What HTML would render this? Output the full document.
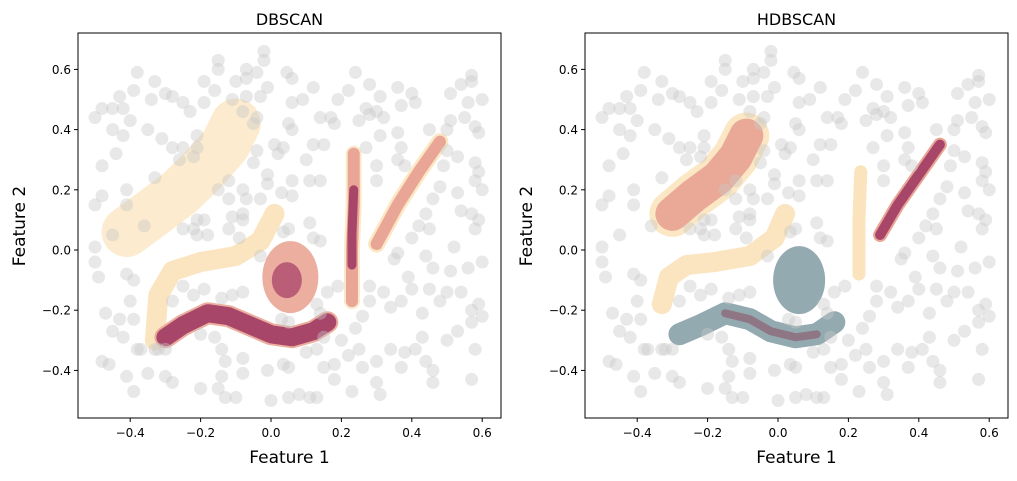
<!DOCTYPE html>
<html><head><meta charset="utf-8"><style>
body{margin:0;background:#fff;}
svg text{font-family:"DejaVu Sans","Liberation Sans",sans-serif;fill:#000;}
</style></head><body>
<svg id="chart" width="1017" height="476" viewBox="0 0 1017 476" xmlns="http://www.w3.org/2000/svg">
<defs>
<clipPath id="clipL"><rect x="78" y="33" width="423" height="385"/></clipPath>
<clipPath id="clipR"><rect x="585" y="33" width="423" height="385"/></clipPath>
</defs>
<g id="panelL"></g>
<g id="panelR"></g>
</svg>
<script>
// noise points (data coords)
const noiseX=[-0.50,-0.48,-0.45,-0.43,-0.39,-0.38,-0.42,-0.40,-0.45,-0.42,-0.44,-0.48,-0.50,-0.48,-0.41,-0.41,-0.36,-0.45,-0.50,-0.50,-0.49,-0.41,-0.39,-0.40,-0.47,-0.43,-0.39,-0.45,-0.42,-0.38,-0.33,-0.48,-0.46,-0.41,-0.39,-0.35,-0.30,-0.28,-0.20,-0.15,-0.13,-0.10,-0.14,-0.13,-0.14,-0.08,-0.08,-0.01,0.035,0.05,0.0,0.05,0.08,0.11,0.13,0.15,0.18,0.18,0.22,0.23,0.25,0.26,0.30,0.30,0.31,0.34,0.37,0.38,0.43,0.41,0.44,0.46,0.46,0.50,0.53,0.57,0.58,0.57,0.60,0.59,0.57,0.54,0.50,0.48,0.43,0.45,0.40,0.39,0.37,0.34,0.32,0.28,0.28,0.26,0.24,0.20,0.35,0.36,0.44,0.46,0.51,0.56,0.60,0.52,0.45,0.40,0.42,0.44,0.46,0.48,0.53,0.54,0.57,0.59,0.58,0.60,0.58,0.59,0.58,0.49,0.50,0.53,0.45,0.50,0.51,0.55,0.58,0.59,0.56,0.51,0.54,0.57,0.57,0.60,0.40,0.41,0.36,0.37,0.31,0.30,0.27,0.28,0.24,0.22,0.19,0.25,0.28,0.32,0.31,0.36,0.37,0.36,0.38,0.30,0.30,0.27,0.18,0.14,0.17,0.12,0.09,0.06,0.06,0.045,0.05,0.06,0.12,0.15,0.10,0.11,0.14,0.06,0.06,0.03,0.01,0.035,0.02,-0.02,-0.02,-0.04,-0.07,-0.07,-0.10,-0.15,-0.15,-0.19,-0.16,-0.11,-0.07,-0.03,-0.01,-0.08,-0.04,-0.05,-0.19,-0.25,-0.23,-0.30,-0.28,-0.33,-0.34,-0.35,-0.31,-0.28,-0.25,-0.21,-0.21,-0.22,-0.26,-0.33,-0.04,-0.05,-0.01,-0.01,-0.03,-0.07,-0.08,-0.12,-0.15,-0.12,-0.08,-0.08,-0.11,-0.12,-0.19,-0.21,-0.22,-0.25,-0.18,-0.21,-0.09,-0.03,0.035,0.05,0.11,0.12,0.14,0.19,0.16,0.13,0.14,0.05,0.03,-0.08,-0.11,-0.14,-0.19,-0.22,-0.25,-0.28,-0.16,-0.20,0.10,0.13,0.15,-0.37,-0.32,-0.30];
const noiseY=[0.44,0.47,0.47,0.51,0.53,0.59,0.47,0.43,0.40,0.38,0.32,0.28,0.15,0.18,0.20,0.15,0.08,0.05,0.01,-0.04,-0.09,-0.08,-0.10,-0.17,-0.21,-0.23,-0.23,-0.27,-0.29,-0.33,-0.33,-0.37,-0.38,-0.42,-0.47,-0.41,-0.42,-0.44,-0.46,-0.46,-0.49,-0.49,-0.42,-0.37,-0.33,-0.41,-0.36,-0.40,-0.38,-0.39,-0.50,-0.49,-0.48,-0.49,-0.49,-0.39,-0.43,-0.38,-0.35,-0.47,-0.33,-0.39,-0.37,-0.44,-0.48,-0.33,-0.39,-0.34,-0.29,-0.33,-0.37,-0.44,-0.40,-0.30,-0.27,-0.43,-0.33,-0.24,-0.22,-0.18,-0.20,-0.14,-0.14,-0.17,-0.21,-0.13,-0.13,-0.09,-0.17,-0.19,-0.14,-0.12,-0.17,-0.22,-0.26,-0.30,-0.03,-0.01,-0.02,-0.06,-0.07,-0.06,-0.04,0.01,0.07,0.04,0.08,0.12,0.17,0.21,0.19,0.13,0.12,0.10,0.07,0.20,0.23,0.26,0.29,0.28,0.33,0.31,0.40,0.40,0.43,0.44,0.41,0.39,0.49,0.52,0.55,0.56,0.58,0.50,0.52,0.49,0.54,0.48,0.51,0.46,0.47,0.55,0.59,0.53,0.50,0.43,0.45,0.44,0.38,0.39,0.34,0.30,0.28,0.28,0.23,0.34,0.42,0.44,0.44,0.54,0.50,0.49,0.57,0.59,0.42,0.40,0.35,0.35,0.30,0.23,0.23,0.23,0.18,0.19,0.35,0.34,0.32,0.66,0.63,0.59,0.60,0.57,0.56,0.63,0.60,0.56,0.53,0.50,0.51,0.51,0.54,0.46,0.44,0.42,0.49,0.49,0.46,0.52,0.51,0.56,0.50,0.40,0.37,0.34,0.34,0.38,0.34,0.31,0.30,0.24,0.33,0.29,0.25,0.22,0.17,0.17,0.20,0.23,0.20,0.17,0.12,0.10,0.11,0.07,0.10,0.10,0.07,0.07,0.05,0.05,0.04,-0.02,0.06,0.07,0.09,0.04,0.03,-0.12,-0.14,-0.18,-0.21,-0.24,-0.23,-0.14,-0.15,-0.16,-0.13,-0.15,-0.12,-0.17,-0.29,-0.28,-0.34,-0.33,-0.29,-0.33,-0.33,-0.33];

// DBSCAN clusters (centerlines in data coords)
const dbCreamUpperX=[-0.41,-0.34,-0.26,-0.19,-0.13,-0.10];
const dbCreamUpperY=[0.06,0.12,0.19,0.27,0.35,0.42];
const dbCreamLowerX=[-0.33,-0.32,-0.28,-0.20,-0.10,-0.03,0.01];
const dbCreamLowerY=[-0.30,-0.15,-0.07,-0.04,-0.02,0.03,0.12];
const dbWaveX=[-0.30,-0.25,-0.18,-0.12,-0.06,0.0,0.06,0.12,0.16];
const dbWaveY=[-0.29,-0.25,-0.21,-0.22,-0.25,-0.28,-0.29,-0.27,-0.24];
const dbBarX=[0.23,0.23,0.235,0.235];
const dbBarY=[-0.17,0.0,0.15,0.32];
const dbDiagX=[0.30,0.36,0.42,0.48];
const dbDiagY=[0.02,0.15,0.26,0.36];
const dbBlobX=[0.055];
const dbBlobY=[-0.09];

// HDBSCAN clusters
const hdSalmonX=[-0.30,-0.24,-0.17,-0.12,-0.09];
const hdSalmonY=[0.12,0.18,0.24,0.31,0.38];
const hdCreamX=[-0.33,-0.31,-0.26,-0.18,-0.08,-0.01,0.02];
const hdCreamY=[-0.18,-0.09,-0.05,-0.04,-0.02,0.04,0.12];
const hdBarX=[0.23,0.23,0.235];
const hdBarY=[-0.08,0.10,0.26];
const hdDiagX=[0.29,0.34,0.40,0.46];
const hdDiagY=[0.05,0.15,0.25,0.35];
const hdWaveX=[-0.28,-0.22,-0.15,-0.08,-0.02,0.05,0.11,0.16];
const hdWaveY=[-0.28,-0.25,-0.21,-0.23,-0.27,-0.29,-0.28,-0.24];
const hdBlobX=[0.06];
const hdBlobY=[-0.10];

const xTicks=[-0.4,-0.2,0.0,0.2,0.4,0.6];
const yTicks=[-0.4,-0.2,0.0,0.2,0.4,0.6];
const tickLabels=['\u22120.4','\u22120.2','0.0','0.2','0.4','0.6'];

const NS='http://www.w3.org/2000/svg';
function mk(tag,attrs,parent){const e=document.createElementNS(NS,tag);for(const k in attrs)e.setAttribute(k,attrs[k]);parent.appendChild(e);return e;}

function drawPanel(g,x0,left,title,clipId,layers){
  const X=v=>x0+v*352, Y=v=>250-v*301;
  const plot=mk('g',{'clip-path':'url(#'+clipId+')'},g);
  
  
  function line(xs,ys,col,w,op){
    let d='';xs.forEach((x,i)=>{d+=(i?'L':'M')+X(x)+' '+Y(ys[i]);});
    const p=mk('path',{d:d,fill:'none',stroke:col,'stroke-width':w,'stroke-linecap':'round','stroke-linejoin':'round',opacity:op},plot);
    
    
  }
  function blob(xs,ys,col,rx,ry,op){
    xs.forEach((x,i)=>{const c=mk('ellipse',{cx:X(x),cy:Y(ys[i]),rx:rx,ry:ry,fill:col,opacity:op},plot);
      
      });
  }
  layers(line,blob);
  noiseX.forEach((x,i)=>{
    const c=mk('circle',{cx:X(x),cy:Y(noiseY[i]),r:6.5,fill:'#c9c9c9',opacity:0.42},plot);
    
    
  });
  const fr=mk('rect',{x:left,y:33,width:423,height:385,fill:'none',stroke:'#000','stroke-width':1},g);
  
  
  xTicks.forEach((t,i)=>{
    const xx=X(t);
    mk('line',{x1:xx,x2:xx,y1:418,y2:422,stroke:'#000'},g);
    const tx=mk('text',{x:xx,y:437,'text-anchor':'middle','font-size':12},g);
    tx.textContent=tickLabels[i];
    
    
  });
  yTicks.forEach((t,i)=>{
    const yy=Y(t);
    mk('line',{x1:left-4,x2:left,y1:yy,y2:yy,stroke:'#000'},g);
    const tx=mk('text',{x:left-7,y:yy+4.5,'text-anchor':'end','font-size':12},g);
    tx.textContent=tickLabels[i];
    
    
  });
  const tt=mk('text',{x:left+211.5,y:25,'text-anchor':'middle','font-size':16},g);
  tt.textContent=title;
  
  
  const xl=mk('text',{x:left+211.5,y:463,'text-anchor':'middle','font-size':17},g);
  xl.textContent='Feature 1';
  
  
  const yl=mk('text',{x:0,y:0,'text-anchor':'middle','font-size':17,transform:'translate('+(left-53)+',226) rotate(-90)'},g);
  yl.textContent='Feature 2';
  
  
}

drawPanel(document.getElementById('panelL'),271,78,'DBSCAN','clipL',(line,blob)=>{
  line(dbCreamUpperX,dbCreamUpperY,'#fbe4bd',50,0.75);
  line(dbCreamLowerX,dbCreamLowerY,'#fbe4bd',20,0.95);
  blob(dbBlobX,dbBlobY,'#e9a595',28,36,0.9);
  line(dbBarX,dbBarY,'#fbe4bd',16,0.8);
  line(dbBarX,dbBarY,'#e9a595',12,1);
  line(dbBarX.slice(0,3),[-0.05,0.05,0.2],'#a8466a',9,1);
  line(dbDiagX,dbDiagY,'#fbe4bd',17,0.9);
  line(dbDiagX,dbDiagY,'#e9a595',12,1);
  blob([0.045],[-0.10],'#b0506e',15,18,0.85);
  line(dbWaveX,dbWaveY,'#e9a595',22,0.9);
  line(dbWaveX,dbWaveY,'#a8466a',18,1);
});
drawPanel(document.getElementById('panelR'),778,585,'HDBSCAN','clipR',(line,blob)=>{
  line(hdSalmonX,hdSalmonY,'#fbe4bd',46,0.9);
  line(hdSalmonX,hdSalmonY,'#e9a595',34,0.95);
  line(hdCreamX,hdCreamY,'#fbe4bd',20,0.95);
  line(hdBarX,hdBarY,'#fbe4bd',13,1);
  line(hdDiagX,hdDiagY,'#e9a595',14,1);
  line(hdDiagX,hdDiagY,'#a8466a',10,1);
  blob(hdBlobX,hdBlobY,'#93aab0',26,34,1);
  line(hdWaveX,hdWaveY,'#93aab0',22,1);
  line(hdWaveX.slice(2,7),hdWaveY.slice(2,7),'#8a4a62',8,0.55);
});
</script>
</body></html>
